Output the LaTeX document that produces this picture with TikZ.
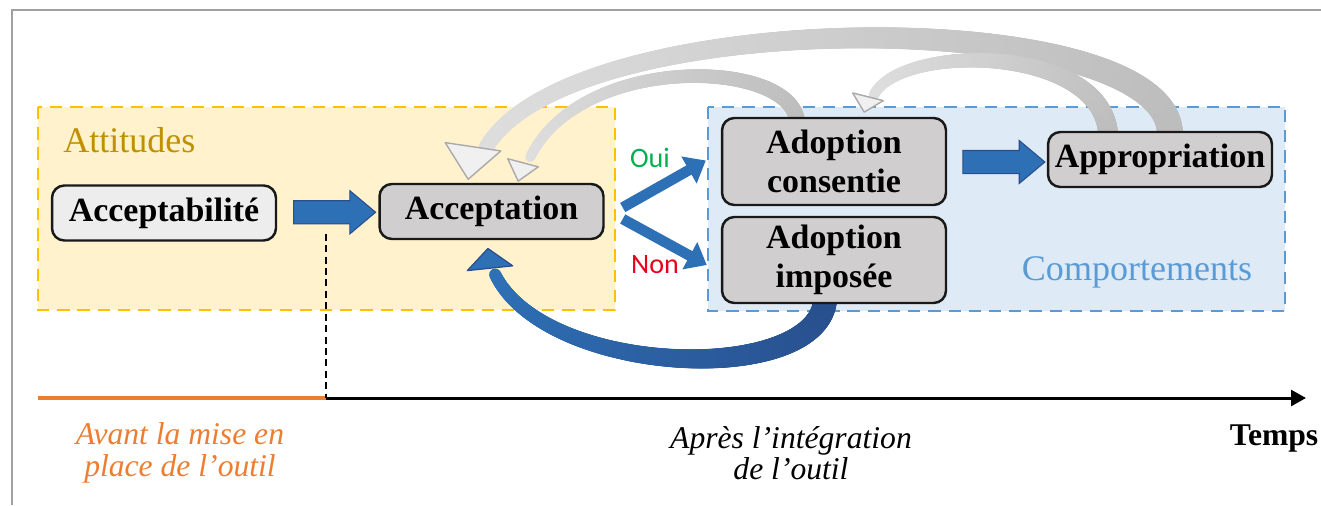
\documentclass[tikz,border=0pt]{standalone}
\usepackage{fontspec}
\setmainfont{Liberation Serif}
\newfontfamily\labelfont{Carlito}
\usepackage{tikz}
\usetikzlibrary{arrows.meta,shapes.arrows,decorations.markings,calc}
\definecolor{attfill}{RGB}{255,242,204}
\definecolor{attline}{RGB}{255,192,0}
\definecolor{atttext}{RGB}{191,144,0}
\definecolor{compfill}{RGB}{222,235,247}
\definecolor{compline}{RGB}{91,155,213}
\definecolor{boxgray}{RGB}{208,206,206}
\definecolor{boxlight}{RGB}{237,237,237}
\definecolor{flowblue}{RGB}{46,112,182}
\definecolor{flowdark}{RGB}{40,78,140}
\definecolor{graytail}{RGB}{188,188,188}
\definecolor{grayhead}{RGB}{222,222,222}
\definecolor{grayedge}{RGB}{170,170,170}
\definecolor{ouigreen}{RGB}{0,176,80}
\definecolor{nonred}{RGB}{232,0,28}
\definecolor{avantorange}{RGB}{237,125,49}
\definecolor{framegray}{RGB}{160,160,160}
\pgfdeclarelayer{regions}
\pgfdeclarelayer{flows}
\pgfsetlayers{regions,flows,main}
\tikzset{
  stage/.style={draw=black!90,line width=1.4pt,rounded corners=7pt,fill=boxgray,
    minimum width=4.48cm,minimum height=1.1cm,inner sep=0pt,align=center,
    font=\bfseries\fontsize{19.3}{22.5}\selectfont},
  attregion/.style={draw=attline,fill=attfill,line width=1.6pt,dash pattern=on 7pt off 4.5pt},
  compregion/.style={draw=compline,fill=compfill,line width=1.6pt,dash pattern=on 7pt off 4.5pt},
  fatarrow/.style={single arrow,draw=flowdark,fill=flowblue,line width=0.6pt,
    inner xsep=0pt,inner ysep=0.22cm,single arrow head extend=0.2cm,
    single arrow tip angle=80,minimum height=1.64cm},
  branch/.style={flowblue,line width=6pt,-{Triangle[length=11pt,width=17pt]}},
  taper/.style n args={4}{postaction={decorate,decoration={markings,
    mark=between positions 0 and 1 step 0.6pt with {
      \pgfmathsetmacro\tfrac{\pgfkeysvalueof{/pgf/decoration/mark info/distance from start}/\pgfdecoratedpathlength}
      \pgfmathsetmacro\trad{#1+(#2-#1)*\tfrac}
      \pgfmathsetmacro\tmix{100*\tfrac}
      \fill[#4!\tmix!#3] (0,0) circle (\trad pt);}}}},
  grayhead/.style={fill=grayhead!45!white,draw=grayedge,line width=0.8pt,line join=round},
  bluehead/.style={fill=flowblue,draw=flowdark,line width=0.7pt,line join=round},
  regionlabel/.style={font=\fontsize{20.5}{24}\selectfont,inner sep=0pt},
  timelabel/.style={font=\itshape\fontsize{18}{18}\selectfont,align=center,inner sep=0pt}
}
\begin{document}
\begin{tikzpicture}[x=0.02cm,y=-0.02cm]
\useasboundingbox (0,0) rectangle (1321,505);
\draw[framegray,line width=1.2pt] (12,505) -- (12,10) -- (1321,10);

\node[stage,fill=boxlight] (abil) at (164,213) {Acceptabilité};
\node[stage] (acc) at (491.5,211.5) {Acceptation};
\node[stage,minimum height=1.74cm] (cons) at (834,161.5) {Adoption\\consentie};
\node[stage,minimum height=1.72cm] (imp) at (834,260) {Adoption\\imposée};
\node[stage] (appr) at (1160,159.5) {Appropriation};

\begin{pgfonlayer}{regions}
\draw[attregion] (38,107) rectangle (615,310);
\draw[compregion] (708,107) rectangle (1285,311);
\end{pgfonlayer}
\node[regionlabel,text=atttext,anchor=west] (att) at (63,140) {Attitudes};
\node[regionlabel,text=compline] (comp) at (1137,272) {Comportements};

% retours : corps (a..d), base de la pointe (h) et son axe (u)
\coordinate (r1a) at ($(appr.north)+(10,2)$);
\coordinate (r1b) at ($(appr.north)+(5,-126)$);
\coordinate (r1c) at ($(acc.north)+(78.5,-180)$);
\coordinate (r1d) at ($(acc.north)+(-5.5,-35)$);
\coordinate (r1h) at ($(acc.north)+(-18.5,-36)$);
\coordinate (r1u) at ($(r1h)+(6,-40)$);
\coordinate (r2a) at ($(appr.north)+(-52,2)$);
\coordinate (r2b) at ($(appr.north)+(-60,-87)$);
\coordinate (r2c) at ($(cons.north)+(66,-73)$);
\coordinate (r2d) at ($(cons.north)+(40,-22)$);
\coordinate (r2h) at ($(cons.north)+(34,-20)$);
\coordinate (r2u) at ($(r2h)+(8,-32)$);
\coordinate (r3a) at ($(cons.north)+(-37,4)$);
\coordinate (r3b) at ($(cons.north)+(-44,-58)$);
\coordinate (r3c) at ($(acc.north)+(88.5,-130)$);
\coordinate (r3d) at ($(acc.north)+(38.5,-25)$);
\coordinate (r3h) at ($(acc.north)+(31.5,-20)$);
\coordinate (r3u) at ($(r3h)+(10,-38)$);
\coordinate (r4a) at ($(imp.south)+(-9,-3)$);
\coordinate (r4b) at ($(imp.south)+(-19,82)$);
\coordinate (r4c) at ($(acc.south)+(53.5,137)$);
\coordinate (r4d) at ($(acc.south)+(3.5,34)$);
\coordinate (r4h) at ($(acc.south)+(-1.5,28)$);
\coordinate (r4u) at ($(r4h)+(4,38)$);
\begin{pgfonlayer}{flows}
\path[taper={7.4}{4.2}{graytail}{grayhead}] (r1a) .. controls (r1b) and (r1c) .. (r1d);
\filldraw[grayhead] ($(r1h)!16pt!90:(r1u)$) -- ($(r1h)!-18.7pt!(r1u)$) -- ($(r1h)!16pt!-90:(r1u)$) -- cycle;
\path[taper={5.7}{3}{graytail}{grayhead}] (r2a) .. controls (r2b) and (r2c) .. (r2d);
\filldraw[grayhead] ($(r2h)!9pt!90:(r2u)$) -- ($(r2h)!-9pt!(r2u)$) -- ($(r2h)!9pt!-90:(r2u)$) -- cycle;
\path[taper={4.5}{2.9}{graytail}{grayhead}] (r3a) .. controls (r3b) and (r3c) .. (r3d);
\filldraw[grayhead] ($(r3h)!9pt!90:(r3u)$) -- ($(r3h)!-10.8pt!(r3u)$) -- ($(r3h)!9pt!-90:(r3u)$) -- cycle;
\path[taper={6.8}{3.4}{flowdark}{flowblue}] (r4a) .. controls (r4b) and (r4c) .. (r4d);
\filldraw[bluehead] ($(r4h)!13pt!90:(r4u)$) -- ($(r4h)!-11.3pt!(r4u)$) -- ($(r4h)!13pt!-90:(r4u)$) -- cycle;
\end{pgfonlayer}

\node[fatarrow] (arrA) at ($(abil.east)!0.5!(acc.west)$) {};
\node[fatarrow] (arrB) at ($(cons.east)!0.5!(appr.west)+(0,1.5)$) {};
\draw[branch] ($(acc.east)+(18,-4)$) -- ($(cons.west)+(-15,-1)$);
\draw[branch] ($(acc.east)+(18,7.5)$) -- ($(imp.west)+(-14,5)$);
\node[font=\labelfont\fontsize{16}{19}\selectfont,text=ouigreen] (oui) at (650,158) {Oui};
\node[font=\labelfont\fontsize{16}{19}\selectfont,text=nonred] (non) at (655,265) {Non};

% axe du temps
\coordinate (tstart) at (38,398);
\coordinate (tsplit) at (326,398);
\coordinate (tend) at (1306,398);
\draw[avantorange,line width=2.3pt] (tstart) -- (tsplit);
\draw[line width=1.7pt,-{Triangle[length=8.5pt,width=9pt]}] (tsplit) -- (tend);
\draw[line width=0.8pt,dash pattern=on 4pt off 2.5pt] ($(tsplit |- abil.south)+(0,-8)$) -- (tsplit);
\node[timelabel,text=avantorange] (avant) at (180,453) {Avant la mise en\\place de l’outil};
\node[timelabel] (apres) at (791,453) {Après l’intégration\\de l’outil};
\node[font=\bfseries\fontsize{18}{21}\selectfont,inner sep=0pt] (temps) at (1274,438) {Temps};
\end{tikzpicture}
\end{document}
